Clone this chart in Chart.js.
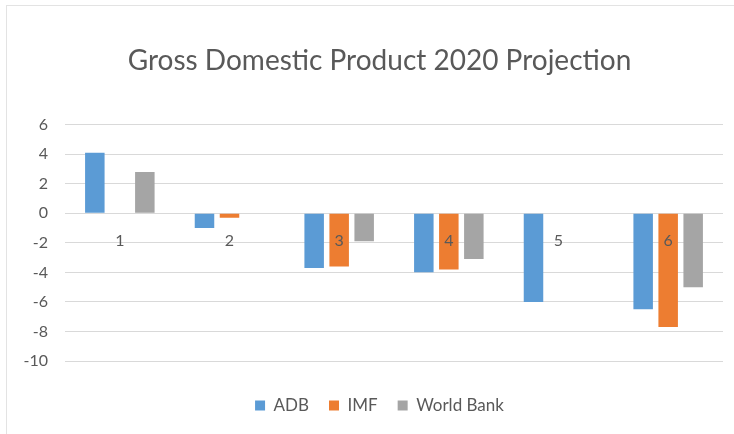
<!DOCTYPE html>
<html>
<head>
<meta charset="utf-8">
<script src="https://cdn.jsdelivr.net/npm/chart.js@4/dist/chart.umd.min.js"></script>
<style>
  html, body { margin: 0; padding: 0; background: #fff; }
  #wrap { position: relative; width: 734px; height: 434px; }
  #frame { position: absolute; left: 6px; top: 5px; right: 0; bottom: 0;
           border-left: 1px solid #e3e3e3; border-top: 1px solid #e3e3e3; }
  canvas { position: absolute; left: 0; top: 0; }
</style>
</head>
<body>
<div id="wrap">
  <div id="frame"></div>
  <canvas id="cvs" width="734" height="434"></canvas>
</div>
<script>
/* data */
const categories = ['1', '2', '3', '4', '5', '6'];
const adb = [4.1, -1.0, -3.7, -4.0, -6.0, -6.5];
const imf = [null, -0.3, -3.6, -3.8, null, -7.7];
const worldBank = [2.8, null, -1.9, -3.1, null, -5.0];
const yTicks = [6, 4, 2, 0, -2, -4, -6, -8, -10];

const txt = '#595959';
const font = 'Lato, "Liberation Sans", sans-serif';

// y axis is squeezed (so title/legend center like the original);
// widen its label clip box back to the canvas edge
const unclipY = {
  id: 'unclipY',
  afterLayout: chart => { chart.scales.y.left = 0; }
};

new Chart(document.getElementById('cvs'), {
  type: 'bar',
  data: {
    labels: categories,
    datasets: [
      { label: 'ADB', data: adb, backgroundColor: '#5B9BD5' },
      { label: 'IMF', data: imf, backgroundColor: '#ED7D31' },
      { label: 'World Bank', data: worldBank, backgroundColor: '#A5A5A5' }
    ]
  },
  options: {
    responsive: false,
    animation: false,
    datasets: { bar: { categoryPercentage: 0.684, barPercentage: 0.78, skipNull: false } },
    layout: { padding: { left: 36, right: 11, top: 0, bottom: 10 } },
    plugins: {
      title: {
        display: true,
        text: 'Gross Domestic Product 2020 Projection',
        color: txt,
        font: { family: font, size: 28, weight: 'normal' },
        padding: { top: 44, bottom: 47 }
      },
      legend: {
        position: 'bottom',
        labels: {
          color: txt,
          font: { family: font, size: 17 },
          boxWidth: 10, boxHeight: 10,
          padding: 20
        }
      },
      tooltip: { enabled: false }
    },
    scales: {
      x: {
        position: { y: 0 },
        grid: { display: false, drawTicks: false },
        border: { display: false },
        ticks: { z: 1, color: txt, font: { family: font, size: 16 }, padding: 18 }
      },
      // empty strip under the plot, keeps room above the legend
      gap: {
        type: 'linear', axis: 'x', position: 'bottom',
        grid: { display: false }, border: { display: false }, ticks: { display: false },
        afterFit: s => { s.height = 16; }
      },
      y: {
        min: -10, max: 6,
        afterBuildTicks: s => { s.ticks = yTicks.map(v => ({ value: v })); },
        afterFit: s => { s.width = 29; },
        grid: { color: '#d9d9d9', lineWidth: 1, drawTicks: false },
        border: { display: false },
        ticks: { color: txt, font: { family: font, size: 16 }, padding: 17 }
      }
    }
  },
  plugins: [unclipY]
});
</script>
</body>
</html>
